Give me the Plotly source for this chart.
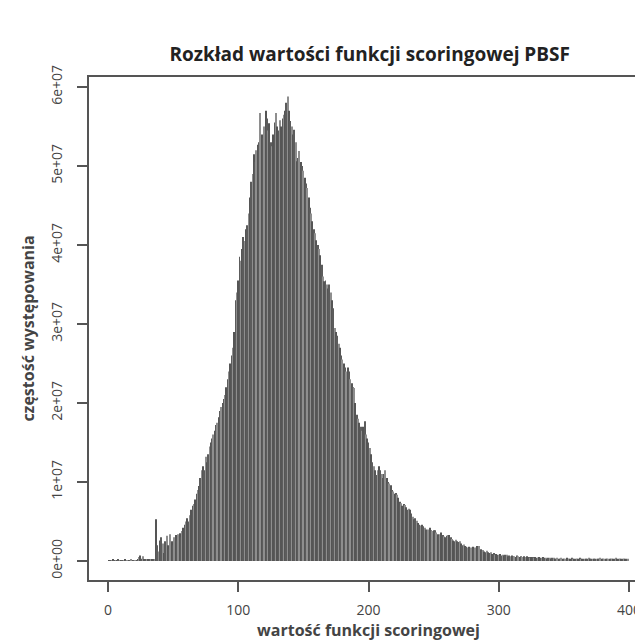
import plotly.graph_objects as go

# Frequency (in millions) of each integer score value 1..399
counts_mln = [
    # 1-23
    0.1, 0.1, 0.1, 0.15, 0.1, 0.1, 0.1, 0.15, 0.1, 0.1, 0.1, 0.1, 0.15, 0.1, 0.1, 0.1, 0.1, 0.15, 0.1, 0.1, 0.1, 0.1, 0.15,
    # 24-36
    0.5, 0.7, 0.3, 0.6, 0.2, 0.15, 0.2, 0.2, 0.15, 0.2, 0.15, 0.2, 0.2,
    # 37-60
    5.3, 2.0, 1.2, 2.6, 3.0, 2.2, 1.0, 2.5, 3.2, 2.0, 1.5, 3.4, 2.5, 2.0, 3.0, 3.3, 2.6, 3.4, 3.5, 3.0, 3.8, 4.2, 4.6, 5.0,
    # 61-100
    5.4, 5.0, 5.8, 6.5, 7.0, 7.2, 7.8, 8.5, 9.0, 9.5, 10.5, 11.5, 12.0, 11.5, 13.2, 12.5, 13.5, 14.5, 15.0, 15.5,
    16.0, 16.5, 17.2, 17.5, 18.2, 19.0, 19.5, 20.0, 20.5, 21.0, 22.0, 23.0, 24.0, 25.0, 26.0, 27.0, 29.0, 33.0, 34.0, 35.5,
    # 101-140
    38.5, 38.0, 39.5, 41.0, 40.5, 42.0, 42.5, 44.0, 46.0, 48.0, 49.0, 51.5, 50.5, 52.0, 52.7, 53.0, 56.7, 54.0, 53.5, 55.0,
    57.0, 56.0, 54.5, 55.4, 53.0, 52.5, 54.0, 55.5, 56.7, 55.0, 54.5, 55.8, 55.0, 56.0, 56.5, 57.0, 58.0, 58.8, 57.0, 55.7,
    # 141-180
    55.0, 54.0, 54.6, 53.0, 50.6, 51.0, 51.9, 50.5, 50.0, 49.4, 48.5, 47.8, 47.2, 46.0, 44.7, 44.0, 43.0, 42.0, 41.5, 40.6,
    40.0, 39.5, 38.7, 37.5, 36.0, 35.4, 35.5, 35.0, 34.5, 35.0, 34.0, 33.0, 32.0, 29.5, 29.0, 28.5, 27.5, 27.0, 26.0, 25.5,
    # 181-220
    25.0, 24.5, 24.0, 24.5, 24.0, 23.0, 22.5, 22.0, 21.9, 20.0, 18.5, 18.0, 17.5, 17.0, 16.5, 17.0, 17.7, 16.0, 15.5, 15.0,
    14.3, 13.5, 12.5, 12.0, 11.5, 10.9, 11.5, 12.0, 11.5, 11.0, 10.5, 11.0, 11.5, 10.5, 10.0, 9.8, 9.6, 9.0, 8.8, 8.5,
    # 221-260
    8.6, 8.4, 8.0, 7.5, 7.3, 7.0, 7.2, 7.1, 6.8, 6.5, 6.6, 6.5, 6.0, 5.6, 5.3, 5.4, 5.1, 4.8, 4.6, 4.5,
    4.6, 4.4, 4.2, 4.0, 3.9, 4.0, 4.2, 3.9, 3.8, 3.9, 3.9, 3.6, 3.4, 3.2, 3.4, 3.6, 3.3, 3.1, 3.0, 3.2,
    # 261-300
    3.3, 3.3, 3.0, 2.8, 2.6, 2.5, 2.7, 2.5, 2.4, 2.5, 2.2, 2.0, 2.1, 1.9, 1.8, 1.7, 1.8, 1.6, 1.7, 1.8,
    1.5, 1.7, 1.9, 1.8, 1.9, 1.5, 1.3, 1.4, 1.2, 1.1, 1.3, 1.1, 1.0, 1.1, 0.9, 1.0, 0.8, 0.9, 0.8, 0.8,
    # 301-340
    0.9, 0.7, 0.8, 0.7, 0.8, 0.8, 0.6, 0.7, 0.6, 0.7, 0.6, 0.6, 0.5, 0.7, 0.6, 0.5, 0.6, 0.5, 0.6, 0.5,
    0.5, 0.6, 0.5, 0.4, 0.5, 0.5, 0.4, 0.5, 0.4, 0.4, 0.5, 0.4, 0.4, 0.5, 0.4, 0.4, 0.3, 0.4, 0.4, 0.3,
    # 341-380
    0.4, 0.4, 0.3, 0.3, 0.4, 0.3, 0.3, 0.4, 0.3, 0.3, 0.3, 0.4, 0.3, 0.3, 0.3, 0.4, 0.3, 0.3, 0.3, 0.3,
    0.3, 0.4, 0.3, 0.3, 0.3, 0.3, 0.3, 0.3, 0.4, 0.3, 0.3, 0.3, 0.3, 0.3, 0.3, 0.3, 0.3, 0.4, 0.3, 0.3,
    # 381-399
    0.3, 0.3, 0.3, 0.3, 0.3, 0.3, 0.3, 0.3, 0.3, 0.4, 0.3, 0.3, 0.3, 0.3, 0.3, 0.3, 0.3, 0.3, 0.3,
]
assert len(counts_mln) == 399, len(counts_mln)
scores = list(range(1, len(counts_mln) + 1))
counts = [v * 1e6 for v in counts_mln]

x_tick_vals = [0, 100, 200, 300, 400]
x_tick_text = ["0", "100", "200", "300", "400"]
y_tick_vals = [0, 1e7, 2e7, 3e7, 4e7, 5e7, 6e7]
y_tick_text = ["0e+00", "1e+07", "2e+07", "3e+07", "4e+07", "5e+07", "6e+07"]

title_text = "Rozkład wartości funkcji scoringowej PBSF"
x_title = "wartość funkcji scoringowej"
y_title = "częstość występowania"

FONT = "Open Sans, Noto Sans, sans-serif"
AX = "#555555"
TXT = "#444444"

# striped grey look of the densely packed vertical lines (style only)
bar_palette = ["#555555", "#5c5c5c", "#8e8e8e"]
bar_colors = [bar_palette[i % 3] for i in range(len(scores))]

fig = go.Figure(
    go.Bar(
        x=scores,
        y=counts,
        marker=dict(color=bar_colors, line=dict(width=0)),
        width=0.75,
    )
)

fig.update_layout(
    width=643,
    height=641,
    margin=dict(l=81, r=1, t=69, b=69),
    paper_bgcolor="white",
    plot_bgcolor="white",
    showlegend=False,
    font=dict(family=FONT, color=TXT, size=14),
    title=dict(
        text="<b>" + title_text + "</b>",
        x=0.5625,
        xanchor="center",
        y=0.928,
        yanchor="middle",
        font=dict(size=19, color="#222222", family=FONT),
    ),
)

fig.update_xaxes(
    range=[-14.5, 414.5],
    tickvals=x_tick_vals,
    ticktext=x_tick_text,
    ticks="outside",
    ticklen=10,
    tickwidth=1.5,
    tickcolor=AX,
    showline=True,
    linecolor=AX,
    linewidth=1.5,
    mirror=True,
    showgrid=False,
    zeroline=False,
    ticklabelstandoff=6,
    tickfont=dict(size=14, color=TXT),
    title=dict(text="<b>" + x_title + "</b>", font=dict(size=16, color=TXT), standoff=2),
)

fig.update_yaxes(
    range=[-2.405e6, 6.1266e7],
    tickvals=y_tick_vals,
    ticktext=y_tick_text,
    tickangle=-90,
    ticks="outside",
    ticklen=10,
    tickwidth=1.5,
    tickcolor=AX,
    showline=True,
    linecolor=AX,
    linewidth=1.5,
    mirror=True,
    showgrid=False,
    zeroline=False,
    ticklabelstandoff=10,
    tickfont=dict(size=14, color=TXT),
    title=dict(text="<b>" + y_title + "</b>", font=dict(size=16, color=TXT), standoff=8),
)

fig.write_html("out.html")
